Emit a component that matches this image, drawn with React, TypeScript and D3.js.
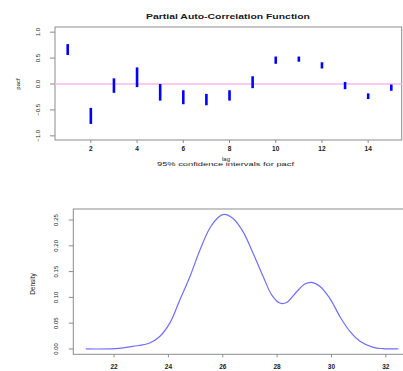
import React from 'react';
import * as d3 from 'd3';

// PACF confidence intervals per lag
const lags = [1, 2, 3, 4, 5, 6, 7, 8, 9, 10, 11, 12, 13, 14, 15];
const ciHigh = [0.77, -0.46, 0.11, 0.32, 0.0, -0.12, -0.19, -0.12, 0.15, 0.53, 0.53, 0.42, 0.04, -0.18, -0.01];
const ciLow = [0.56, -0.77, -0.17, -0.06, -0.32, -0.39, -0.41, -0.32, -0.08, 0.39, 0.43, 0.3, -0.1, -0.29, -0.13];
const lagTicks = [2, 4, 6, 8, 10, 12, 14];
const pacfTicks = [-1, -0.5, 0, 0.5, 1];

// kernel density estimate
const densX = [20.96, 22.03, 22.7, 23.31, 23.68, 24.05, 24.42, 24.79, 25.16, 25.52, 25.83, 26.04, 26.38, 26.75, 27.12, 27.49, 27.8, 28.1, 28.35, 28.72, 29.02, 29.27, 29.58, 29.94, 30.31, 30.68, 31.05, 31.54, 31.91, 32.46];
const densY = [0, 0.0006, 0.005, 0.0115, 0.024, 0.05, 0.095, 0.14, 0.192, 0.234, 0.255, 0.261, 0.253, 0.227, 0.185, 0.14, 0.105, 0.089, 0.09, 0.111, 0.126, 0.129, 0.121, 0.098, 0.063, 0.034, 0.015, 0.003, 0.0006, 0];
const densXTicks = [22, 24, 26, 28, 30, 32];
const densYTicks = [0, 0.05, 0.1, 0.15, 0.2, 0.25];

const font = 'Liberation Sans, Arial, sans-serif';
const ink = '#1a1a1a';
const boxColor = '#8c8c8c';

const App = () => {
  // top panel
  const x1 = d3.scaleLinear().domain([0.45, 15.45]).range([55, 401.7]);
  const y1 = d3.scaleLinear().domain([-1.08, 1.1]).range([140, 27]);

  // bottom panel
  const x2 = d3.scaleLinear().domain([20.5, 32.92]).range([73.3, 410.8]);
  const y2 = d3.scaleLinear().domain([-0.0104, 0.2714]).range([354.3, 209]);

  const line = d3.line<number>()
    .x((d, i) => x2(densX[i]))
    .y(d => y2(d))
    .curve(d3.curveCatmullRom.alpha(0.5));

  return (
    <svg width={403} height={371} style={{ position: 'absolute', left: 0, top: 0, background: '#fff' }} fontFamily={font}>
      {/* ---- PACF panel ---- */}
      <text x={228} y={18.5} fontSize={8} fontWeight="bold" textAnchor="middle" fill={ink}
        textLength={164} lengthAdjust="spacingAndGlyphs">Partial Auto-Correlation Function</text>
      <rect x={x1.range()[0]} y={y1.range()[1]} width={x1.range()[1] - x1.range()[0]}
        height={y1.range()[0] - y1.range()[1]} fill="none" stroke={boxColor} strokeWidth={1} />
      <line x1={x1.range()[0]} x2={x1.range()[1]} y1={y1(0)} y2={y1(0)} stroke="#f9b8ee" strokeWidth={1.6} />
      {lags.map((l, i) => (
        <line key={l} x1={x1(l)} x2={x1(l)} y1={y1(ciLow[i])} y2={y1(ciHigh[i])} stroke="#0000ff" strokeWidth={2.6} />
      ))}
      {pacfTicks.map(t => (
        <g key={t}>
          <line x1={x1.range()[0] - 5} x2={x1.range()[0]} y1={y1(t)} y2={y1(t)} stroke={boxColor} />
          <text transform={`translate(40,${y1(t)}) rotate(-90)`} fontSize={6} textAnchor="middle" fill={ink}>
            {d3.format('.1f')(t)}
          </text>
        </g>
      ))}
      {lagTicks.map(t => (
        <g key={t}>
          <line x1={x1(t)} x2={x1(t)} y1={y1.range()[0]} y2={y1.range()[0] + 3} stroke={boxColor} />
          <text x={x1(t)} y={151} fontSize={6.5} textAnchor="middle" fill={ink} fontWeight="bold">{t}</text>
        </g>
      ))}
      <text transform="translate(20,84) rotate(-90)" fontSize={6} textAnchor="middle" fill={ink}>pacf</text>
      <text x={226} y={160.5} fontSize={6} textAnchor="middle" fill={ink}>lag</text>
      <text x={225.5} y={165.5} fontSize={6} textAnchor="middle" fill={ink}
        textLength={137} lengthAdjust="spacingAndGlyphs">95% confidence intervals for pacf</text>

      {/* ---- density panel ---- */}
      <rect x={x2.range()[0]} y={y2.range()[1]} width={x2.range()[1] - x2.range()[0]}
        height={y2.range()[0] - y2.range()[1]} fill="none" stroke={boxColor} strokeWidth={1} />
      <path d={line(densY) || ''} fill="none" stroke="#6f6fff" strokeWidth={1.2} />
      {densYTicks.map(t => (
        <g key={t}>
          <line x1={x2.range()[0] - 4.5} x2={x2.range()[0]} y1={y2(t)} y2={y2(t)} stroke={boxColor} />
          <text transform={`translate(57.5,${y2(t)}) rotate(-90)`} fontSize={6} textAnchor="middle" fill={ink}>
            {d3.format('.2f')(t)}
          </text>
        </g>
      ))}
      {densXTicks.map(t => (
        <g key={t}>
          <line x1={x2(t)} x2={x2(t)} y1={y2.range()[0]} y2={y2.range()[0] + 3} stroke={boxColor} />
          <text x={x2(t)} y={369} fontSize={6.5} textAnchor="middle" fill={ink} fontWeight="bold">{t}</text>
        </g>
      ))}
      <text transform="translate(35,284) rotate(-90)" fontSize={6.5} textAnchor="middle" fill={ink}>Density</text>
    </svg>
  );
};

export default App;
